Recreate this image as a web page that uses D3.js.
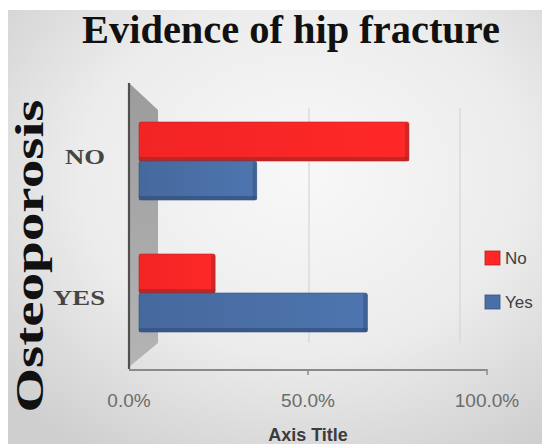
<!DOCTYPE html>
<html>
<head>
<meta charset="utf-8">
<script src="https://cdn.jsdelivr.net/npm/d3@7"></script>
<style>
  html, body { margin: 0; padding: 0; background: #fff; }
  svg { display: block; }
</style>
</head>
<body>
<svg id="chart" width="542" height="444"></svg>
<script>
// Osteoporosis categories (y axis) and fracture series (legend)
const categories = ["NO", "YES"];
const seriesNames = ["No", "Yes"];
const seriesNo  = [0.78, 0.22];   // share without hip fracture
const seriesYes = [0.34, 0.66];   // share with hip fracture
const tickValues = [0, 0.5, 1];
const tickLabels = ["0.0%", "50.0%", "100.0%"];
const seriesColors = ["#ff2626", "#4a6fa6"];
const seriesEdges  = ["#b02424", "#34527f"];

const W = 542, H = 444;
const svg = d3.select("#chart");
const defs = svg.append("defs");

// panel background: soft radial fade
const bg = defs.append("radialGradient").attr("id", "bg")
  .attr("cx", "0.55").attr("cy", "0.38").attr("r", "0.75");
bg.append("stop").attr("offset", "0").attr("stop-color", "#f8f8f8");
bg.append("stop").attr("offset", "0.55").attr("stop-color", "#ececec");
bg.append("stop").attr("offset", "1").attr("stop-color", "#cfcfcf");
svg.append("rect").attr("x", 8).attr("y", 10).attr("width", W - 8).attr("height", H - 10)
  .attr("fill", "url(#bg)");

// 3D geometry: front floor edge, bar plane, back wall plane
const depthTop = 27, depthBottom = 24;
const xFront = d3.scaleLinear().domain([0, 1]).range([129, 487]);
const xBar   = d3.scaleLinear().domain([0, 1]).range([139, 485]);
const xBack  = d3.scaleLinear().domain([0, 1]).range([158, 460]);
const yTop = 83, yBottom = 367, yAxis = 370;

const yCenter = d3.scalePoint().domain(categories).range([95, 359]).padding(0.5);
const barH = 39;

// back gridlines
svg.append("g").selectAll("line").data(tickValues.slice(1)).join("line")
  .attr("x1", d => xBack(d)).attr("x2", d => xBack(d))
  .attr("y1", yTop + depthTop - 2).attr("y2", yBottom - depthBottom)
  .attr("stroke", "#d6d6d6").attr("stroke-width", 1.2);

// side wall
const wallGrad = defs.append("linearGradient").attr("id", "wall")
  .attr("x1", "0").attr("y1", "0").attr("x2", "0").attr("y2", "1");
wallGrad.append("stop").attr("offset", "0").attr("stop-color", "#9c9c9c");
wallGrad.append("stop").attr("offset", "1").attr("stop-color", "#b4b4b4");
const x0 = xFront(0), xb0 = xBack(0);
svg.append("path")
  .attr("d", `M${x0},${yTop} L${xb0},${yTop + depthTop} L${xb0},${yBottom - depthBottom} L${x0},${yBottom} Z`)
  .attr("fill", "url(#wall)");
svg.append("line").attr("x1", x0).attr("x2", x0).attr("y1", yTop).attr("y2", yBottom + 2)
  .attr("stroke", "#505050").attr("stroke-width", 2.2);

// floor axis line and ticks
svg.append("line").attr("x1", x0).attr("x2", xFront(1)).attr("y1", yAxis).attr("y2", yAxis)
  .attr("stroke", "#8a8a8a").attr("stroke-width", 2);
svg.append("g").selectAll("line").data(tickValues.slice(1)).join("line")
  .attr("x1", d => xFront(d)).attr("x2", d => xFront(d))
  .attr("y1", yAxis - 1).attr("y2", yAxis + 5)
  .attr("stroke", "#8a8a8a").attr("stroke-width", 1.5);

// bar face gradients
seriesColors.forEach((c, i) => {
  const g = defs.append("linearGradient").attr("id", "bar" + i)
    .attr("x1", "0").attr("y1", "0").attr("x2", "1").attr("y2", "0");
  g.append("stop").attr("offset", "0").attr("stop-color", d3.color(c).darker(0.15));
  g.append("stop").attr("offset", "1").attr("stop-color", d3.color(c).brighter(0.15));
});

const rows = categories.map((c, i) => ({ cat: c, values: [seriesNo[i], seriesYes[i]] }));
const bars = [];
rows.forEach(r => r.values.forEach((v, s) => bars.push({ cat: r.cat, s, v })));

const barG = svg.append("g").selectAll("g").data(bars).join("g");
// main face
barG.append("rect")
  .attr("x", xBar(0))
  .attr("y", d => yCenter(d.cat) - (d.s === 0 ? barH : 0))
  .attr("width", d => xBar(d.v) - xBar(0))
  .attr("height", barH)
  .attr("rx", 2)
  .attr("fill", d => `url(#bar${d.s})`)
  .attr("stroke", d => seriesEdges[d.s]).attr("stroke-width", 1).attr("stroke-opacity", 0.6);
// lower shaded face
barG.append("rect")
  .attr("x", xBar(0))
  .attr("y", d => yCenter(d.cat) - (d.s === 0 ? barH : 0) + barH - 4)
  .attr("width", d => xBar(d.v) - xBar(0))
  .attr("height", 4)
  .attr("fill", d => seriesEdges[d.s]).attr("opacity", 0.75);
// right end shaded face
barG.append("rect")
  .attr("x", d => xBar(d.v) - 4)
  .attr("y", d => yCenter(d.cat) - (d.s === 0 ? barH : 0) + 1)
  .attr("width", 4)
  .attr("height", barH - 2)
  .attr("rx", 1.5)
  .attr("fill", d => seriesEdges[d.s]).attr("opacity", 0.55);

// tick labels
svg.append("g").selectAll("text").data(tickValues).join("text")
  .attr("x", d => xFront(d)).attr("y", 407)
  .attr("text-anchor", "middle")
  .attr("font-family", "Liberation Sans, Arial, sans-serif")
  .attr("font-size", 19).attr("fill", "#6c6c6c")
  .text((d, i) => tickLabels[i]);

// axis title
svg.append("text").attr("x", xFront(0.5)).attr("y", 441)
  .attr("text-anchor", "middle")
  .attr("font-family", "Liberation Sans, Arial, sans-serif")
  .attr("font-weight", "bold").attr("font-size", 18).attr("fill", "#3c3c3c")
  .text("Axis Title");

// category labels
svg.append("g").selectAll("text").data(categories).join("text")
  .attr("x", 105).attr("y", d => yCenter(d) + (d === "NO" ? 3 : 12))
  .attr("text-anchor", "end")
  .attr("font-family", "Liberation Serif, Times New Roman, serif")
  .attr("font-weight", "bold").attr("font-size", 22).attr("fill", "#454545")
  .attr("textLength", d => d === "NO" ? 40 : 52).attr("lengthAdjust", "spacingAndGlyphs")
  .text(d => d);

// chart title
svg.append("text").attr("x", 291).attr("y", 43)
  .attr("text-anchor", "middle")
  .attr("font-family", "Liberation Serif, Times New Roman, serif")
  .attr("font-weight", "bold").attr("font-size", 40).attr("fill", "#111")
  .attr("textLength", 418).attr("lengthAdjust", "spacingAndGlyphs")
  .text("Evidence of hip fracture");

// vertical axis title
svg.append("text")
  .attr("transform", "translate(43,256) rotate(-90)")
  .attr("text-anchor", "middle")
  .attr("font-family", "Liberation Serif, Times New Roman, serif")
  .attr("font-weight", "bold").attr("font-size", 40).attr("fill", "#111")
  .attr("textLength", 313).attr("lengthAdjust", "spacingAndGlyphs")
  .text("Osteoporosis");

// legend
const legend = svg.append("g").selectAll("g").data(seriesNames).join("g")
  .attr("transform", (d, i) => `translate(485,${251 + i * 44})`);
legend.append("rect").attr("width", 15).attr("height", 14)
  .attr("fill", (d, i) => seriesColors[i])
  .attr("stroke", (d, i) => seriesEdges[i]).attr("stroke-width", 0.8);
legend.append("text").attr("x", 20).attr("y", 13)
  .attr("font-family", "Liberation Sans, Arial, sans-serif")
  .attr("font-size", 17).attr("fill", "#404040")
  .text(d => d);
</script>
</body>
</html>
